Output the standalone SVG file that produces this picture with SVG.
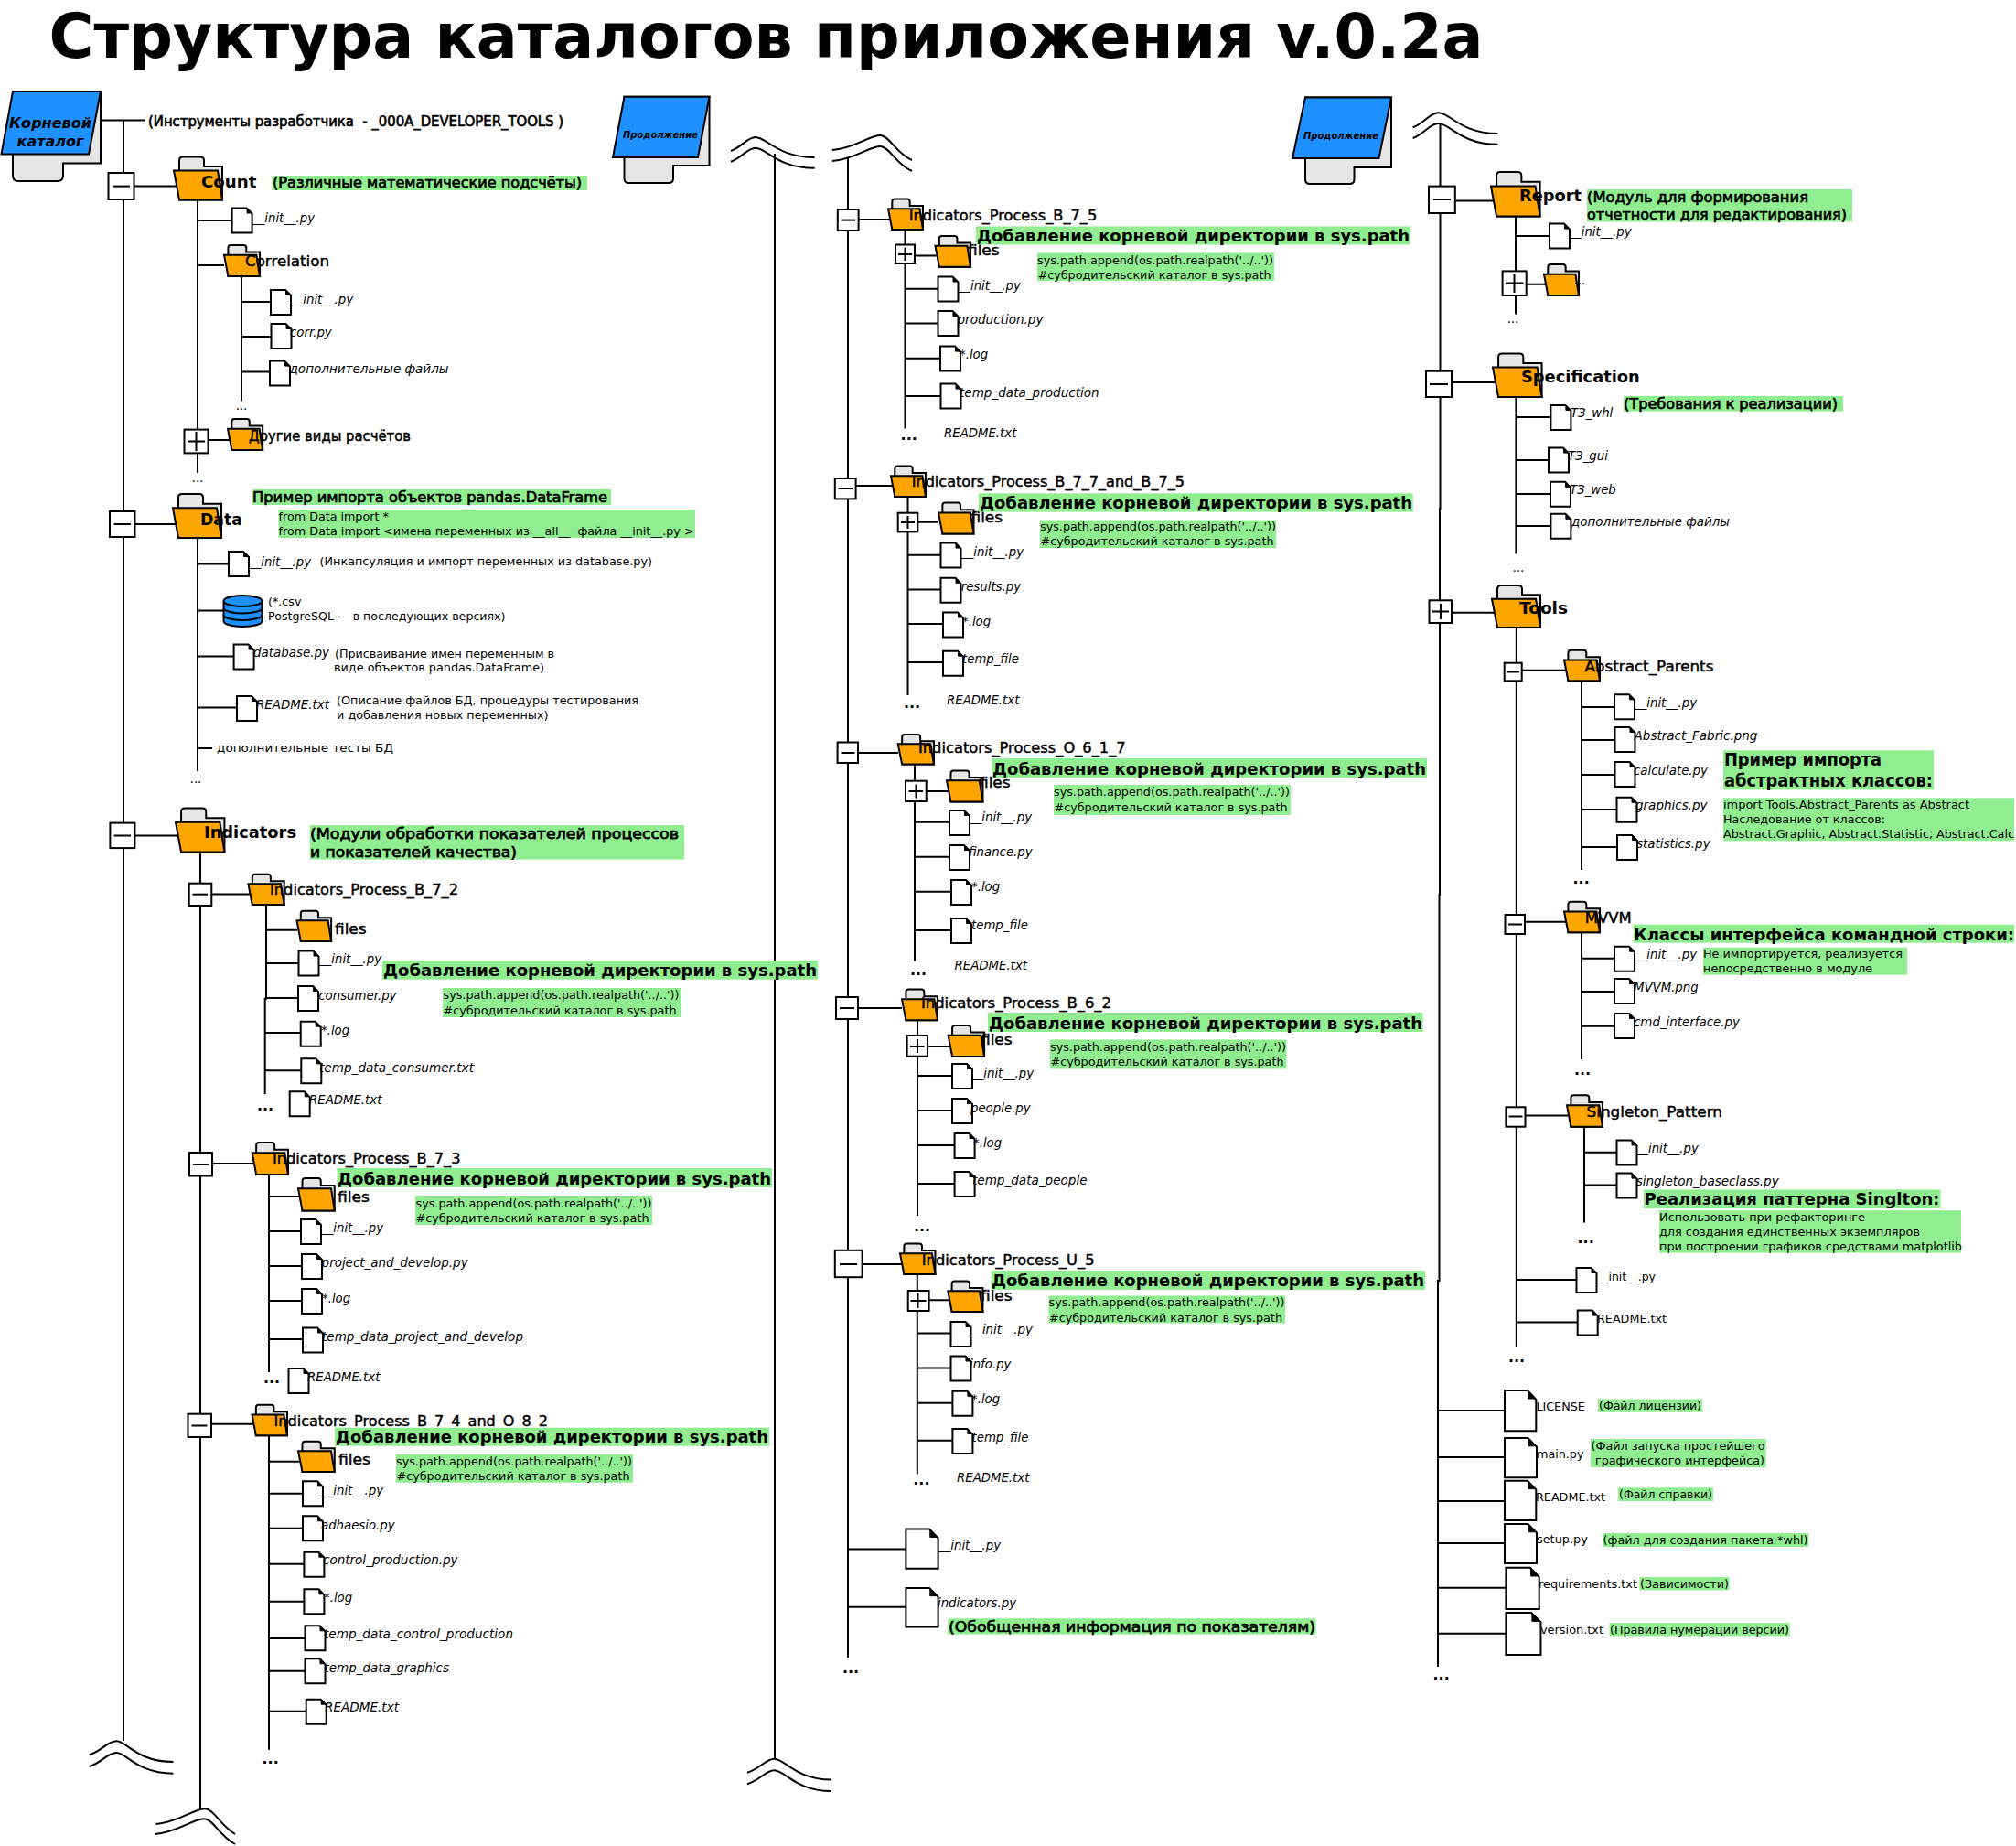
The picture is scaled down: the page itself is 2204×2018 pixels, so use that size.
<svg xmlns="http://www.w3.org/2000/svg" width="2204" height="2018" viewBox="0 0 2204 2018">
<style>
text{font-family:"DejaVu Sans",sans-serif;fill:#000;white-space:pre}
.c{fill:none;stroke:#000;stroke-width:2}
.n{vector-effect:non-scaling-stroke;stroke:#000;stroke-width:2;stroke-linejoin:miter}
.w{fill:#fff}.gy{fill:#e6e6e6}.o{fill:#ffa500}.bl{fill:#1e90ff}
.b{fill:#fff;stroke:#000;stroke-width:2}
.m{fill:none;stroke:#000;stroke-width:2}
.g{fill:#90ee90}
.i{font-size:13.3px;font-style:italic}
.d{font-size:12.7px}
.r{font-size:13px}
.h{font-size:16px;stroke:#000;stroke-width:.45px}
.H{font-size:18px;font-weight:bold}
.gt{font-size:17px;font-weight:bold}
.gb{font-size:15px;stroke:#000;stroke-width:.65px}
.sg{font-size:12.5px}
.dots{font-size:16px;font-weight:bold;text-anchor:middle}
.dd{font-size:13.3px;text-anchor:middle}
.ic{font-style:italic;font-weight:bold;text-anchor:middle}
</style>
<defs>
<g id="file"><path class="n w" d="M0,0H16L22,6V27H0Z"/><path d="M16.5,0.5V5.5H21.5Z" fill="#000" stroke="#000" stroke-width="1" vector-effect="non-scaling-stroke"/></g>
<g id="folder"><path class="n gy" d="M6,47V4Q6,0 10,0H29Q33,0 33,4V10.5H53V47Z"/><path class="n o" d="M0,15H48L53,47H6Z"/></g>
</defs>
<rect width="2204" height="2018" fill="#fff"/>
<g id="connectors">
<path class="c" d="M135,131.5V1903.3M110,131.5H159M146,203.5H195M216,218V517M216,241H254M216,290H245M264,302V438.6M264,330H296M264,368H297M264,406.4H296M227,481H252.5"/>
<path class="c" d="M147,573H194M216,588V843M216,616.4H250.5M216,667.5H245M216,717.5H256M216,773.6H260M216,818H232"/>
<path class="c" d="M147,913.5H195M219,931V1978M231,977.5H275M291,989V1091.7H289.7V1196M291,1016.7H325M291,1053H326.5M291,1091H326M289.7,1129H329M289.7,1170.3H329"/>
<path class="c" d="M232,1272H277M294,1284V1500M294,1308H328M294,1346H329M294,1384H330M294,1422H330M294,1464H331"/>
<path class="c" d="M231,1556.7H278M294,1569V1912.7M294,1597.7H330M294,1632.7H331M294,1670.7H331M294,1709.7H332.4M294,1750.7H332.4M294,1791H333.5M294,1826.7H333.5M294,1870.7H334.7"/>
<path class="c" d="M847,168V1922.7M927,172V1812"/>
<path class="c" d="M938,240H972.7M989.5,251V468.6M1000,279.6H1023.7M989.5,315.7H1025.5M989.5,353.6H1025.5M989.5,391.8H1028M989.5,432.9H1028.5"/>
<path class="c" d="M935.6,531H975M992.5,543V760M1003,570.7H1026M992.5,606.8H1028.5M992.5,644.6H1028.5M992.5,682H1031M992.5,724H1031"/>
<path class="c" d="M938,823H982M1000,835V1050.6M1012.7,865H1037M1000,898.8H1038M1000,936.7H1038M1000,974.7H1040M1000,1017H1040"/>
<path class="c" d="M938,1102H986M1003,1115V1329M1014,1144H1039M1003,1176H1041M1003,1214H1041M1003,1252H1043.6M1003,1294H1043.6"/>
<path class="c" d="M942,1382H986M1002.8,1393V1611.5M1015.6,1421.3H1038M1002.8,1457.6H1039.5M1002.8,1495.6H1039.5M1002.8,1533.7H1041.4M1002.8,1574.8H1041.4M927,1693.6H990.4M927,1756.8H990.4"/>
<path class="c" d="M1574.5,136V556H1574V978H1573.5V1400H1572V1822"/>
<path class="c" d="M1590,219.6H1633M1657,236V343.6M1657,257.9H1695M1668,310.7H1690"/>
<path class="c" d="M1587,417.9H1635M1657.4,434V605.4M1657.4,456H1695.4M1657.4,502.9H1693M1657.4,540H1695M1657.4,575H1695.4"/>
<path class="c" d="M1587,669.7H1634M1657.8,686V1472M1664,732.7H1714M1729,744V951M1729,773H1764.6M1729,809H1765.8M1729,847H1765.8M1729,885H1767.5M1729,926H1768"/>
<path class="c" d="M1667,1007.7H1714M1729,1019V1158M1729,1047.7H1764.6M1729,1084H1764.6M1729,1121.7H1764.6"/>
<path class="c" d="M1667.5,1219.6H1715M1732,1231V1336.6M1732,1259.8H1767.5M1732,1295.5H1767.5M1657.8,1399H1723.5M1657.8,1445.5H1724.7"/>
<path class="c" d="M1572,1542H1645M1572,1592.9H1645M1572,1641H1645M1572,1687H1645M1572,1735.7H1646.4M1572,1785.7H1646.4"/>
<path class="c" d="M97.6,1918.3C112,1914 117,1903.3 127.4,1903.3C138,1903.3 150,1926 189.4,1926M97.6,1931C112,1926.7 117,1916 127.4,1916C138,1916 150,1938.7 189.4,1938.7"/>
<path class="c" d="M170.5,1994C195,1992 212,1977.3 223.9,1977.3C234,1977.3 240,1995 257,2005M169.5,2005C194,2003 211,1988.3 222.9,1988.3C233,1988.3 239,2006 257,2016"/>
<path class="c" d="M817,1937.7C832,1933 837,1922.7 846.7,1922.7C858,1922.7 870,1945.5 909,1945.5M817,1950.2C832,1945.5 837,1935.2 846.7,1935.2C858,1935.2 870,1958 909,1958"/>
<path class="c" d="M799,165C812,160 817,150 826,150C838,150 850,172 890.6,172M799,176.8C812,171.8 817,161.8 826,161.8C838,161.8 850,183.8 890.6,183.8"/>
<path class="c" d="M909.8,164C935,162 950,148 962.5,148C972,148 980,168 997,175M909.8,176C935,174 950,160 962.5,160C972,160 980,180 997,187"/>
<path class="c" d="M1544.6,139.3C1558,134 1563,123.2 1572.8,123.2C1585,123.2 1597,146 1637.4,146M1544.6,151.1C1558,145.8 1563,135 1572.8,135C1585,135 1597,157.8 1637.4,157.8"/>
</g>
<g id="title"><text x="53.6" y="62.5" font-size="67" font-weight="bold" textLength="1568" lengthAdjust="spacingAndGlyphs">Структура каталогов приложения v.0.2a</text></g>
<g id="root">
<path class="n gy" d="M14,100H110V178.5H69V192Q69,198 63,198H20Q14,198 14,192Z"/>
<path class="n bl" d="M14,100H110L97,168.6H1.5Z"/>
<text class="ic" x="55" y="140" font-size="16" textLength="90" lengthAdjust="spacingAndGlyphs">Корневой</text>
<text class="ic" x="55" y="160" font-size="16">каталог</text>
</g>
<g id="cont-1">
<path class="n gy" d="M682.5,105.7H775.5V181H736V195Q736,200 731,200H687.5Q682.5,200 682.5,195Z"/>
<path class="n bl" d="M682.5,105.7H775.5L763,172H670Z"/>
<text class="ic" x="722" y="150.7" font-size="10.5" textLength="82" lengthAdjust="spacingAndGlyphs">Продолжение</text>
</g>
<g id="cont-2">
<path class="n gy" d="M1427,106.4H1521V183H1480.5V196Q1480.5,201 1475.5,201H1432Q1427,201 1427,196Z"/>
<path class="n bl" d="M1427,106.4H1521L1507.5,173H1413Z"/>
<text class="ic" x="1466" y="152" font-size="10.5" textLength="82" lengthAdjust="spacingAndGlyphs">Продолжение</text>
</g>
<g id="tools-dev"><text class="gb" x="162" y="137.6" textLength="454" lengthAdjust="spacingAndGlyphs">(Инструменты разработчика  - _000A_DEVELOPER_TOOLS )</text></g>

<g id="count">
<rect class="b" x="118.5" y="189" width="28" height="29"/><path class="m" d="M123.5,203.6H142"/>
<use href="#folder" transform="translate(190,171.5)"/>
<text class="H" x="220" y="205" textLength="60.5" lengthAdjust="spacingAndGlyphs">Count</text>
<rect class="g" x="297.4" y="192" width="344.6" height="16"/>
<text class="gb" x="298" y="205" textLength="338" lengthAdjust="spacingAndGlyphs">(Различные математические подсчёты)</text>
</g>
<g id="count-init"><use href="#file" x="253.6" y="227.5"/><text class="i" x="276" y="243">__init__.py</text></g>
<g id="correlation"><use href="#folder" transform="translate(245,268) scale(.736,.723)"/><text class="h" x="268" y="291" textLength="92" lengthAdjust="spacingAndGlyphs">Correlation</text></g>
<g id="corr-init"><use href="#file" x="296" y="317"/><text class="i" x="318" y="331.5">__init__.py</text></g>
<g id="corr-py"><use href="#file" x="296.5" y="354"/><text class="i" x="317" y="368">corr.py</text></g>
<g id="corr-extra"><use href="#file" x="295" y="394.6"/><text class="i" x="316.5" y="408" textLength="174" lengthAdjust="spacingAndGlyphs">дополнительные файлы</text></g>
<g id="corr-dots"><text class="dd" x="264" y="447.5">...</text></g>
<g id="other-calc">
<rect class="b" x="201.5" y="469.6" width="26" height="25.8"/><path class="m" d="M205,482.5H224M214.5,472V493"/>
<use href="#folder" transform="translate(249,458) scale(.72,.723)"/>
<text class="h" x="272" y="482" textLength="177" lengthAdjust="spacingAndGlyphs" style="font-size:15px">Другие виды расчётов</text>
</g>
<g id="count-dots"><text class="dd" x="216" y="527">...</text></g>

<g id="data">
<rect class="b" x="120" y="559" width="27.5" height="28"/><path class="m" d="M124.5,573H143"/>
<use href="#folder" transform="translate(189,540) scale(1,1.02)"/>
<text class="H" x="219" y="573.5" textLength="46" lengthAdjust="spacingAndGlyphs">Data</text>
<rect class="g" x="276" y="535" width="392" height="17"/>
<text class="gb" x="276" y="549" textLength="388" lengthAdjust="spacingAndGlyphs">Пример импорта объектов pandas.DataFrame</text>
<rect class="g" x="304.6" y="557" width="455.4" height="31"/>
<text class="d" x="304.6" y="569">from Data import *</text>
<text class="d" x="304.6" y="585.4" textLength="454" lengthAdjust="spacingAndGlyphs">from Data import &lt;имена переменных из __all__  файла __init__.py &gt;</text>
</g>
<g id="data-init"><use href="#file" x="250" y="603"/><text class="i" x="272" y="618.6">__init__.py</text><text class="d" x="349.5" y="618" textLength="363.5" lengthAdjust="spacingAndGlyphs">(Инкапсуляция и импорт переменных из database.py)</text></g>
<g id="data-db">
<path class="n bl" d="M244.5,657V679A21,6 0 0 0 286.5,679V657A21,6 0 0 0 244.5,657Z"/>
<path class="m" d="M244.5,657A21,6 0 0 0 286.5,657M244.5,664.5A21,6 0 0 0 286.5,664.5M244.5,672A21,6 0 0 0 286.5,672"/>
<text class="d" x="293" y="662">(*.csv</text>
<text class="d" x="293" y="678" textLength="259.5" lengthAdjust="spacingAndGlyphs">PostgreSQL -   в последующих версиях)</text>
</g>
<g id="data-database"><use href="#file" x="255.6" y="704.6"/><text class="i" x="277" y="717.5" textLength="83" lengthAdjust="spacingAndGlyphs">database.py</text><text class="d" x="366" y="718.6" textLength="240" lengthAdjust="spacingAndGlyphs">(Присваивание имен переменным в</text><text class="d" x="365" y="734" textLength="230" lengthAdjust="spacingAndGlyphs">виде объектов pandas.DataFrame)</text></g>
<g id="data-readme"><use href="#file" x="259" y="761"/><text class="i" x="280" y="775" textLength="80" lengthAdjust="spacingAndGlyphs">README.txt</text><text class="d" x="368" y="770" textLength="330" lengthAdjust="spacingAndGlyphs">(Описание файлов БД, процедуры тестирования</text><text class="d" x="368" y="786" textLength="231.5" lengthAdjust="spacingAndGlyphs">и добавления новых переменных)</text></g>
<g id="data-tests"><text class="d" x="237" y="822" textLength="193" lengthAdjust="spacingAndGlyphs">дополнительные тесты БД</text></g>
<g id="data-dots"><text class="dd" x="214" y="856">...</text></g>

<g id="indicators">
<rect class="b" x="120.4" y="899.6" width="27" height="27.5"/><path class="m" d="M124.5,913.5H143"/>
<use href="#folder" transform="translate(192,883.6) scale(1.008,1.017)"/>
<text class="H" x="223" y="915.7" textLength="101" lengthAdjust="spacingAndGlyphs">Indicators</text>
<rect class="g" x="338.8" y="902" width="409.2" height="37.6"/>
<text class="gb" x="339" y="917" textLength="403" lengthAdjust="spacingAndGlyphs" style="font-size:16.5px;stroke-width:.75px">(Модули обработки показателей процессов</text>
<text class="gb" x="339" y="937" textLength="226" lengthAdjust="spacingAndGlyphs" style="font-size:16.5px;stroke-width:.75px">и показателей качества)</text>
</g>

<g id="b72">
<rect class="b" x="206.7" y="965.7" width="24.6" height="24.3"/><path class="m" d="M210.5,977.7H227"/>
<use href="#folder" transform="translate(271.4,955.7) scale(.741,.709)"/>
<text class="h" x="295" y="978" textLength="206" lengthAdjust="spacingAndGlyphs">Indicators_Process_B_7_2</text>
</g>
<g id="b72-files"><use href="#folder" transform="translate(324.5,995.7) scale(.71,.709)"/><text class="h" x="366" y="1020.7" textLength="34.5" lengthAdjust="spacingAndGlyphs">files</text></g>
<g id="b72-init"><use href="#file" x="326.5" y="1039.6"/><text class="i" x="349" y="1053">__init__.py</text></g>
<g id="b72-green"><rect class="g" x="418" y="1050" width="476" height="20.7"/><text class="gt" x="419" y="1067" textLength="474" lengthAdjust="spacingAndGlyphs">Добавление корневой директории в sys.path</text>
<rect class="g" x="484" y="1080" width="260" height="32"/><text class="sg" x="484.5" y="1092" textLength="258" lengthAdjust="spacingAndGlyphs">sys.path.append(os.path.realpath('../..'))</text><text class="sg" x="484.5" y="1108.5" textLength="255" lengthAdjust="spacingAndGlyphs">#субродительский каталог в sys.path</text></g>
<g id="b72-consumer"><use href="#file" x="326" y="1078"/><text class="i" x="348.3" y="1092.7">consumer.py</text></g>
<g id="b72-log"><use href="#file" x="328.7" y="1116.7"/><text class="i" x="351" y="1131">*.log</text></g>
<g id="b72-temp"><use href="#file" x="329.3" y="1157.3"/><text class="i" x="349" y="1171.7" textLength="169" lengthAdjust="spacingAndGlyphs">temp_data_consumer.txt</text></g>
<g id="b72-dots"><text class="dots" x="290" y="1214">...</text></g>
<g id="b72-readme"><use href="#file" x="316.7" y="1193.3"/><text class="i" x="338" y="1207">README.txt</text></g>

<g id="b73">
<rect class="b" x="207" y="1260" width="25" height="25.5"/><path class="m" d="M211,1273H228"/>
<use href="#folder" transform="translate(275.7,1249) scale(.741,.745)"/>
<text class="h" x="298" y="1272" textLength="205.5" lengthAdjust="spacingAndGlyphs">Indicators_Process_B_7_3</text>
</g>
<g id="b73-files"><use href="#folder" transform="translate(326,1288) scale(.75,.755)"/><text class="h" x="369" y="1314" textLength="35" lengthAdjust="spacingAndGlyphs">files</text></g>
<g id="b73-green"><rect class="g" x="368.5" y="1277" width="475.5" height="21"/><text class="gt" x="369" y="1294.5" textLength="474" lengthAdjust="spacingAndGlyphs">Добавление корневой директории в sys.path</text>
<rect class="g" x="454" y="1307" width="259" height="32"/><text class="sg" x="454.5" y="1319.5" textLength="258" lengthAdjust="spacingAndGlyphs">sys.path.append(os.path.realpath('../..'))</text><text class="sg" x="454.5" y="1335.5" textLength="255" lengthAdjust="spacingAndGlyphs">#субродительский каталог в sys.path</text></g>
<g id="b73-init"><use href="#file" x="329" y="1333"/><text class="i" x="351" y="1347">__init__.py</text></g>
<g id="b73-project"><use href="#file" x="330" y="1371"/><text class="i" x="351.6" y="1385" textLength="160" lengthAdjust="spacingAndGlyphs">project_and_develop.py</text></g>
<g id="b73-log"><use href="#file" x="330" y="1409"/><text class="i" x="352" y="1423.5">*.log</text></g>
<g id="b73-temp"><use href="#file" x="331" y="1451.5"/><text class="i" x="352" y="1465.5" textLength="220" lengthAdjust="spacingAndGlyphs">temp_data_project_and_develop</text></g>
<g id="b73-dots"><text class="dots" x="297" y="1511.5">...</text></g>
<g id="b73-readme"><use href="#file" x="315.5" y="1496"/><text class="i" x="336" y="1509.5">README.txt</text></g>

<g id="b74">
<rect class="b" x="205.5" y="1545.7" width="25.5" height="25.3"/><path class="m" d="M209.5,1558.5H226.5"/>
<use href="#folder" transform="translate(275.5,1535.7) scale(.726,.715)"/>
<text class="h" x="299.6" y="1559.3" textLength="299.4" lengthAdjust="spacingAndGlyphs">Indicators_Process_B_7_4_and_O_8_2</text>
</g>
<g id="b74-green"><rect class="g" x="366" y="1560.7" width="475" height="20"/><text class="gt" x="367" y="1577.3" textLength="473" lengthAdjust="spacingAndGlyphs">Добавление корневой директории в sys.path</text>
<rect class="g" x="433" y="1590" width="259" height="30.7"/><text class="sg" x="433" y="1601.7" textLength="258" lengthAdjust="spacingAndGlyphs">sys.path.append(os.path.realpath('../..'))</text><text class="sg" x="433.5" y="1618.3" textLength="255" lengthAdjust="spacingAndGlyphs">#субродительский каталог в sys.path</text></g>
<g id="b74-files"><use href="#folder" transform="translate(326,1575.7) scale(.75,.708)"/><text class="h" x="370" y="1601" textLength="35" lengthAdjust="spacingAndGlyphs">files</text></g>
<g id="b74-init"><use href="#file" x="331" y="1619.3"/><text class="i" x="351" y="1634">__init__.py</text></g>
<g id="b74-adh"><use href="#file" x="331" y="1657.3"/><text class="i" x="351" y="1671.7">adhaesio.py</text></g>
<g id="b74-control"><use href="#file" x="332.4" y="1696.7"/><text class="i" x="353" y="1710" textLength="147.6" lengthAdjust="spacingAndGlyphs">control_production.py</text></g>
<g id="b74-log"><use href="#file" x="332.4" y="1737.3"/><text class="i" x="354" y="1750.7">*.log</text></g>
<g id="b74-temp1"><use href="#file" x="333.5" y="1777.3"/><text class="i" x="354" y="1791" textLength="207" lengthAdjust="spacingAndGlyphs">temp_data_control_production</text></g>
<g id="b74-temp2"><use href="#file" x="333.5" y="1813.3"/><text class="i" x="354.5" y="1828" textLength="136.5" lengthAdjust="spacingAndGlyphs">temp_data_graphics</text></g>
<g id="b74-readme"><use href="#file" x="334.7" y="1857.7"/><text class="i" x="355" y="1870.7" textLength="81" lengthAdjust="spacingAndGlyphs">README.txt</text></g>
<g id="b74-dots"><text class="dots" x="295.6" y="1928.3">...</text></g>

<g id="b75">
<rect class="b" x="915.8" y="229" width="22.8" height="23"/><path class="m" d="M919.5,240.6H935"/>
<use href="#folder" transform="translate(971,217.5) scale(.717,.713)"/>
<text class="h" x="993.7" y="240.7" textLength="205.5" lengthAdjust="spacingAndGlyphs">Indicators_Process_B_7_5</text>
</g>
<g id="b75-files">
<rect class="b" x="979" y="267.5" width="21" height="20.5"/><path class="m" d="M982,278H997M989.5,270.5V285"/>
<use href="#folder" transform="translate(1022.5,258) scale(.726,.72)"/>
<text class="h" x="1058" y="279.3" textLength="34.6" lengthAdjust="spacingAndGlyphs">files</text>
</g>
<g id="b75-green"><rect class="g" x="1067" y="247.5" width="474.7" height="20"/><text class="gt" x="1068" y="264" textLength="473" lengthAdjust="spacingAndGlyphs">Добавление корневой директории в sys.path</text>
<rect class="g" x="1134" y="276.4" width="259" height="30.6"/><text class="sg" x="1134" y="288.6" textLength="258" lengthAdjust="spacingAndGlyphs">sys.path.append(os.path.realpath('../..'))</text><text class="sg" x="1134.5" y="305" textLength="255" lengthAdjust="spacingAndGlyphs">#субродительский каталог в sys.path</text></g>
<g id="b75-init"><use href="#file" x="1025.5" y="302.5"/><text class="i" x="1047.7" y="316.8">__init__.py</text></g>
<g id="b75-prod"><use href="#file" x="1025.5" y="340"/><text class="i" x="1046.5" y="354" textLength="94" lengthAdjust="spacingAndGlyphs">production.py</text></g>
<g id="b75-log"><use href="#file" x="1028" y="378.6"/><text class="i" x="1049" y="391.8">*.log</text></g>
<g id="b75-temp"><use href="#file" x="1028.5" y="419.6"/><text class="i" x="1049" y="434" textLength="152.7" lengthAdjust="spacingAndGlyphs">temp_data_production</text></g>
<g id="b75-readme"><text class="i" x="1032" y="477.5">README.txt</text></g>
<g id="b75-dots"><text class="dots" x="993.7" y="481">...</text></g>

<g id="b77">
<rect class="b" x="912.8" y="523" width="22.8" height="22.4"/><path class="m" d="M916.5,534H932"/>
<use href="#folder" transform="translate(974,509.6) scale(.717,.713)"/>
<text class="h" x="996.7" y="532" textLength="298.3" lengthAdjust="spacingAndGlyphs">Indicators_Process_B_7_7_and_B_7_5</text>
</g>
<g id="b77-files">
<rect class="b" x="981.7" y="560.7" width="21.6" height="20.7"/><path class="m" d="M985,571H1000M992.5,564V578"/>
<use href="#folder" transform="translate(1026,549.6) scale(.726,.72)"/>
<text class="h" x="1061.5" y="571" textLength="34.6" lengthAdjust="spacingAndGlyphs">files</text>
</g>
<g id="b77-green"><rect class="g" x="1070" y="539.3" width="474.7" height="20.3"/><text class="gt" x="1071" y="556" textLength="473" lengthAdjust="spacingAndGlyphs">Добавление корневой директории в sys.path</text>
<rect class="g" x="1137" y="568.6" width="258" height="30.4"/><text class="sg" x="1137" y="580" textLength="258" lengthAdjust="spacingAndGlyphs">sys.path.append(os.path.realpath('../..'))</text><text class="sg" x="1137.5" y="596.4" textLength="255" lengthAdjust="spacingAndGlyphs">#субродительский каталог в sys.path</text></g>
<g id="b77-init"><use href="#file" x="1028.5" y="593.6"/><text class="i" x="1051" y="608">__init__.py</text></g>
<g id="b77-results"><use href="#file" x="1028.5" y="631.8"/><text class="i" x="1050.7" y="645.5">results.py</text></g>
<g id="b77-log"><use href="#file" x="1031" y="669.5"/><text class="i" x="1052" y="683.5">*.log</text></g>
<g id="b77-temp"><use href="#file" x="1031" y="711.7"/><text class="i" x="1052" y="724.5">temp_file</text></g>
<g id="b77-readme"><text class="i" x="1035" y="769.5">README.txt</text></g>
<g id="b77-dots"><text class="dots" x="997" y="773.5">...</text></g>

<g id="o617">
<rect class="b" x="915.6" y="811.5" width="22.4" height="22.5"/><path class="m" d="M919.5,823H934.5"/>
<use href="#folder" transform="translate(981.7,803) scale(.741,.69)"/>
<text class="h" x="1004" y="822.5" textLength="226.7" lengthAdjust="spacingAndGlyphs">Indicators_Process_O_6_1_7</text>
</g>
<g id="o617-files">
<rect class="b" x="990" y="853.7" width="22.7" height="22.3"/><path class="m" d="M993.5,865H1009M1001.5,857.5V872.5"/>
<use href="#folder" transform="translate(1035,842.5) scale(.745,.723)"/>
<text class="h" x="1070" y="861" textLength="34.6" lengthAdjust="spacingAndGlyphs">files</text>
</g>
<g id="o617-green"><rect class="g" x="1084.4" y="829" width="475.6" height="21"/><text class="gt" x="1085" y="846.5" textLength="474" lengthAdjust="spacingAndGlyphs">Добавление корневой директории в sys.path</text>
<rect class="g" x="1152" y="858" width="259" height="33"/><text class="sg" x="1152" y="870" textLength="258" lengthAdjust="spacingAndGlyphs">sys.path.append(os.path.realpath('../..'))</text><text class="sg" x="1152.5" y="886.5" textLength="255" lengthAdjust="spacingAndGlyphs">#субродительский каталог в sys.path</text></g>
<g id="o617-init"><use href="#file" x="1038" y="886"/><text class="i" x="1060" y="897.5">__init__.py</text></g>
<g id="o617-finance"><use href="#file" x="1038" y="924"/><text class="i" x="1059" y="935.5">finance.py</text></g>
<g id="o617-log"><use href="#file" x="1040" y="962"/><text class="i" x="1062" y="973.5">*.log</text></g>
<g id="o617-temp"><use href="#file" x="1040" y="1004"/><text class="i" x="1062" y="1015.5">temp_file</text></g>
<g id="o617-readme"><text class="i" x="1043.6" y="1060">README.txt</text></g>
<g id="o617-dots"><text class="dots" x="1004" y="1066">...</text></g>

<g id="b62">
<rect class="b" x="914" y="1090" width="24" height="24"/><path class="m" d="M918,1102H934"/>
<use href="#folder" transform="translate(986,1081.6) scale(.736,.717)"/>
<text class="h" x="1007" y="1101.5" textLength="208" lengthAdjust="spacingAndGlyphs">Indicators_Process_B_6_2</text>
</g>
<g id="b62-files">
<rect class="b" x="991.6" y="1132" width="22.4" height="22.7"/><path class="m" d="M995,1144H1010.5M1003,1136V1151"/>
<use href="#folder" transform="translate(1036.6,1121) scale(.745,.723)"/>
<text class="h" x="1072" y="1142" textLength="34.6" lengthAdjust="spacingAndGlyphs">files</text>
</g>
<g id="b62-green"><rect class="g" x="1080" y="1107" width="475.6" height="21"/><text class="gt" x="1081" y="1124.5" textLength="474" lengthAdjust="spacingAndGlyphs">Добавление корневой директории в sys.path</text>
<rect class="g" x="1147.7" y="1136.5" width="258.8" height="32"/><text class="sg" x="1148" y="1148.5" textLength="258" lengthAdjust="spacingAndGlyphs">sys.path.append(os.path.realpath('../..'))</text><text class="sg" x="1148.5" y="1165" textLength="255" lengthAdjust="spacingAndGlyphs">#субродительский каталог в sys.path</text></g>
<g id="b62-init"><use href="#file" x="1041" y="1163"/><text class="i" x="1062" y="1177.5">__init__.py</text></g>
<g id="b62-people"><use href="#file" x="1041" y="1201"/><text class="i" x="1061" y="1215.5">people.py</text></g>
<g id="b62-log"><use href="#file" x="1043.6" y="1239"/><text class="i" x="1064" y="1253.5">*.log</text></g>
<g id="b62-temp"><use href="#file" x="1043.6" y="1281"/><text class="i" x="1063" y="1294.5" textLength="125.5" lengthAdjust="spacingAndGlyphs">temp_data_people</text></g>
<g id="b62-dots"><text class="dots" x="1008" y="1346">...</text></g>

<g id="u5">
<rect class="b" x="912.8" y="1366.8" width="29.8" height="29.4"/><path class="m" d="M918,1382H937"/>
<use href="#folder" transform="translate(984,1359.5) scale(.726,.713)"/>
<text class="h" x="1007.8" y="1383.2" textLength="188.7" lengthAdjust="spacingAndGlyphs">Indicators_Process_U_5</text>
</g>
<g id="u5-files">
<rect class="b" x="992.7" y="1411" width="22.9" height="22"/><path class="m" d="M995.5,1422H1012.5M1003.5,1414V1430"/>
<use href="#folder" transform="translate(1036.3,1400.5) scale(.72,.713)"/>
<text class="h" x="1072" y="1422" textLength="34.6" lengthAdjust="spacingAndGlyphs">files</text>
</g>
<g id="u5-green"><rect class="g" x="1083.6" y="1388.9" width="474.4" height="21"/><text class="gt" x="1084" y="1406" textLength="473" lengthAdjust="spacingAndGlyphs">Добавление корневой директории в sys.path</text>
<rect class="g" x="1146.5" y="1416.5" width="258.5" height="30"/><text class="sg" x="1146.5" y="1428" textLength="258" lengthAdjust="spacingAndGlyphs">sys.path.append(os.path.realpath('../..'))</text><text class="sg" x="1147" y="1444.6" textLength="255" lengthAdjust="spacingAndGlyphs">#субродительский каталог в sys.path</text></g>
<g id="u5-init"><use href="#file" x="1039.5" y="1445"/><text class="i" x="1060.6" y="1458">__init__.py</text></g>
<g id="u5-info"><use href="#file" x="1039.5" y="1482.5"/><text class="i" x="1060" y="1495.5">info.py</text></g>
<g id="u5-log"><use href="#file" x="1041.4" y="1520.7"/><text class="i" x="1062" y="1533.5">*.log</text></g>
<g id="u5-temp"><use href="#file" x="1041.4" y="1562"/><text class="i" x="1062.5" y="1576">temp_file</text></g>
<g id="u5-readme"><text class="i" x="1046" y="1620">README.txt</text></g>
<g id="u5-dots"><text class="dots" x="1007.4" y="1622.7">...</text></g>
<g id="ind-init"><use href="#file" transform="translate(990.4,1671.6) scale(1.6,1.6)"/><text class="i" x="1026" y="1693.5">__init__.py</text></g>
<g id="ind-py"><use href="#file" transform="translate(990.4,1736) scale(1.6,1.57)"/><text class="i" x="1025" y="1757">indicators.py</text>
<rect class="g" x="1036.3" y="1769.3" width="402.2" height="17.3"/><text class="gb" x="1037" y="1784" textLength="401" lengthAdjust="spacingAndGlyphs">(Обобщенная информация по показателям)</text></g>
<g id="ind-dots"><text class="dots" x="930" y="1828.5">...</text></g>

<g id="report">
<rect class="b" x="1562" y="203.6" width="28.8" height="29.4"/><path class="m" d="M1567,218H1586"/>
<use href="#folder" transform="translate(1630,188) scale(1.011,1.03)"/>
<text class="H" x="1661" y="220.4" textLength="68" lengthAdjust="spacingAndGlyphs">Report</text>
<rect class="g" x="1735" y="207" width="290" height="35.5"/>
<text class="gb" x="1735" y="221" textLength="242" lengthAdjust="spacingAndGlyphs">(Модуль для формирования</text>
<text class="gb" x="1735" y="240" textLength="284" lengthAdjust="spacingAndGlyphs">отчетности для редактирования)</text>
</g>
<g id="report-init"><use href="#file" x="1694" y="244.6"/><text class="i" x="1715.4" y="258">__init__.py</text></g>
<g id="report-sub">
<rect class="b" x="1642.6" y="296.4" width="26.1" height="26.6"/><path class="m" d="M1646,309.5H1665.5M1655.5,299.5V320"/>
<use href="#folder" transform="translate(1688,289) scale(.717,.723)"/>
<text class="dd" x="1727" y="311.4">...</text>
</g>
<g id="report-dots"><text class="dd" x="1654" y="352.5">...</text></g>

<g id="spec">
<rect class="b" x="1559" y="405.7" width="28" height="28.3"/><path class="m" d="M1563,420H1583"/>
<use href="#folder" transform="translate(1632,386.4) scale(1.011,1.013)"/>
<text class="H" x="1663" y="418" textLength="129.8" lengthAdjust="spacingAndGlyphs">Specification</text>
<rect class="g" x="1775" y="432.9" width="240" height="16.7"/>
<text class="gb" x="1775" y="447" textLength="234" lengthAdjust="spacingAndGlyphs">(Требования к реализации)</text>
</g>
<g id="spec-whl"><use href="#file" x="1695.4" y="442.9"/><text class="i" x="1717" y="456">ТЗ_whl</text></g>
<g id="spec-gui"><use href="#file" x="1693" y="489.6"/><text class="i" x="1714" y="503">ТЗ_gui</text></g>
<g id="spec-web"><use href="#file" x="1695" y="526.8"/><text class="i" x="1716" y="540">ТЗ_web</text></g>
<g id="spec-extra"><use href="#file" x="1695.4" y="561.8"/><text class="i" x="1718" y="575" textLength="173" lengthAdjust="spacingAndGlyphs">дополнительные файлы</text></g>
<g id="spec-dots"><text class="dd" x="1660" y="624.6">...</text></g>

<g id="tools">
<rect class="b" x="1562.5" y="656.3" width="24.5" height="24.7"/><path class="m" d="M1566,668.5H1584M1575,660V677"/>
<use href="#folder" transform="translate(1631,640) scale(1,.979)"/>
<text class="H" x="1661" y="670.7" textLength="53" lengthAdjust="spacingAndGlyphs">Tools</text>
</g>
<g id="abstract">
<rect class="b" x="1644.7" y="724.7" width="19" height="19.6"/><path class="m" d="M1647.5,734.5H1661"/>
<use href="#folder" transform="translate(1710,710.7) scale(.736,.715)"/>
<text class="h" x="1732.4" y="734" textLength="141" lengthAdjust="spacingAndGlyphs">Abstract_Parents</text>
</g>
<g id="abs-init"><use href="#file" x="1765" y="759.3"/><text class="i" x="1787" y="773.3">__init__.py</text></g>
<g id="abs-fabric"><use href="#file" x="1765.5" y="795"/><text class="i" x="1786.6" y="809" textLength="134.8" lengthAdjust="spacingAndGlyphs">Abstract_Fabric.png</text></g>
<g id="abs-calc"><use href="#file" x="1765.5" y="833"/><text class="i" x="1786" y="846.7" textLength="81" lengthAdjust="spacingAndGlyphs">calculate.py</text></g>
<g id="abs-graph"><use href="#file" x="1767.5" y="871.7"/><text class="i" x="1788" y="885" textLength="78.6" lengthAdjust="spacingAndGlyphs">graphics.py</text></g>
<g id="abs-stat"><use href="#file" x="1768" y="913"/><text class="i" x="1789" y="926.7" textLength="80.6" lengthAdjust="spacingAndGlyphs">statistics.py</text></g>
<g id="abs-dots"><text class="dots" x="1728.6" y="966">...</text></g>
<g id="abs-note">
<rect class="g" x="1884" y="820.3" width="230" height="43"/>
<text class="gt" x="1885" y="837.3" textLength="172" lengthAdjust="spacingAndGlyphs" style="font-size:19px">Пример импорта</text>
<text class="gt" x="1885" y="860" textLength="228" lengthAdjust="spacingAndGlyphs" style="font-size:19px">абстрактных классов:</text>
<rect class="g" x="1884" y="872.3" width="318" height="47"/>
<text class="r" x="1884" y="884.3" textLength="269" lengthAdjust="spacingAndGlyphs">import Tools.Abstract_Parents as Abstract</text>
<text class="r" x="1884" y="900" textLength="177" lengthAdjust="spacingAndGlyphs">Наследование от классов:</text>
<text class="r" x="1884" y="916" textLength="318" lengthAdjust="spacingAndGlyphs">Abstract.Graphic, Abstract.Statistic, Abstract.Calc</text>
</g>
<g id="mvvm">
<rect class="b" x="1645.5" y="1000" width="21.5" height="21"/><path class="m" d="M1649,1010.5H1664"/>
<use href="#folder" transform="translate(1710,985.7) scale(.736,.715)"/>
<text class="h" x="1732.8" y="1009" textLength="50.8" lengthAdjust="spacingAndGlyphs">MVVM</text>
<rect class="g" x="1785.8" y="1010.7" width="416.2" height="20"/>
<text class="gt" x="1786" y="1027.7" textLength="416" lengthAdjust="spacingAndGlyphs">Классы интерфейса командной строки:</text>
</g>
<g id="mvvm-init"><use href="#file" x="1765" y="1034.7"/><text class="i" x="1787" y="1048.3">__init__.py</text>
<rect class="g" x="1862" y="1035.7" width="223" height="30"/><text class="r" x="1862" y="1047.3" textLength="218" lengthAdjust="spacingAndGlyphs">Не импортируется, реализуется</text><text class="r" x="1862" y="1063.3" textLength="185" lengthAdjust="spacingAndGlyphs">непосредственно в модуле</text></g>
<g id="mvvm-png"><use href="#file" x="1765" y="1070"/><text class="i" x="1786" y="1084">MVVM.png</text></g>
<g id="mvvm-cmd"><use href="#file" x="1765" y="1108"/><text class="i" x="1786" y="1122" textLength="116" lengthAdjust="spacingAndGlyphs">cmd_interface.py</text></g>
<g id="mvvm-dots"><text class="dots" x="1730" y="1174.5">...</text></g>
<g id="singleton">
<rect class="b" x="1646.4" y="1210.3" width="21.1" height="21.4"/><path class="m" d="M1649.5,1220.5H1664.5"/>
<use href="#folder" transform="translate(1713,1197.3) scale(.736,.732)"/>
<text class="h" x="1734.5" y="1221.4" textLength="148.5" lengthAdjust="spacingAndGlyphs">Singleton_Pattern</text>
</g>
<g id="sing-init"><use href="#file" x="1767.5" y="1246.4"/><text class="i" x="1788.7" y="1260">__init__.py</text></g>
<g id="sing-base"><use href="#file" x="1767.5" y="1282.6"/><text class="i" x="1788.7" y="1296" textLength="156" lengthAdjust="spacingAndGlyphs">singleton_baseclass.py</text></g>
<g id="sing-note">
<rect class="g" x="1797" y="1300.4" width="324.4" height="20.6"/>
<text class="gt" x="1797.5" y="1317.4" textLength="323" lengthAdjust="spacingAndGlyphs">Реализация паттерна Singlton:</text>
<rect class="g" x="1814" y="1323.2" width="330" height="46.4"/>
<text class="r" x="1814" y="1335.3" textLength="225" lengthAdjust="spacingAndGlyphs">Использовать при рефакторинге</text>
<text class="r" x="1814" y="1351.3" textLength="285" lengthAdjust="spacingAndGlyphs">для создания единственных экземпляров</text>
<text class="r" x="1814" y="1367.4" textLength="331" lengthAdjust="spacingAndGlyphs">при построении графиков средствами matplotlib</text>
</g>
<g id="sing-dots"><text class="dots" x="1733.6" y="1359">...</text></g>
<g id="tools-init"><use href="#file" x="1723.5" y="1386"/><text class="r" x="1746" y="1399.5" textLength="64" lengthAdjust="spacingAndGlyphs">__init__.py</text></g>
<g id="tools-readme"><use href="#file" x="1724.7" y="1432.6"/><text class="r" x="1746" y="1446" textLength="76" lengthAdjust="spacingAndGlyphs">README.txt</text></g>
<g id="tools-dots"><text class="dots" x="1658" y="1489">...</text></g>

<g id="license"><use href="#file" transform="translate(1645,1520) scale(1.56,1.64)"/><text class="r" x="1679.4" y="1542" textLength="53.4" lengthAdjust="spacingAndGlyphs">LICENSE</text>
<rect class="g" x="1747" y="1529.5" width="114" height="14.3"/><text class="r" x="1748" y="1540.6" textLength="112" lengthAdjust="spacingAndGlyphs">(Файл лицензии)</text></g>
<g id="main"><use href="#file" transform="translate(1645,1572) scale(1.59,1.6)"/><text class="r" x="1680" y="1594" textLength="51.5" lengthAdjust="spacingAndGlyphs">main.py</text>
<rect class="g" x="1739" y="1573" width="191.7" height="31"/><text class="r" x="1739.5" y="1584.8" textLength="190" lengthAdjust="spacingAndGlyphs">(Файл запуска простейшего</text><text class="r" x="1744" y="1601" textLength="185" lengthAdjust="spacingAndGlyphs">графического интерфейса)</text></g>
<g id="readme"><use href="#file" transform="translate(1645,1618.8) scale(1.56,1.6)"/><text class="r" x="1679" y="1641" textLength="76" lengthAdjust="spacingAndGlyphs">README.txt</text>
<rect class="g" x="1769" y="1626.3" width="104" height="14.7"/><text class="r" x="1770" y="1638" textLength="102" lengthAdjust="spacingAndGlyphs">(Файл справки)</text></g>
<g id="setup"><use href="#file" transform="translate(1645,1666) scale(1.59,1.59)"/><text class="r" x="1680" y="1687" textLength="55.8" lengthAdjust="spacingAndGlyphs">setup.py</text>
<rect class="g" x="1752" y="1676" width="225" height="15"/><text class="r" x="1752.5" y="1688" textLength="224" lengthAdjust="spacingAndGlyphs">(файл для создания пакета *whl)</text></g>
<g id="requirements"><use href="#file" transform="translate(1646.4,1713.8) scale(1.65,1.67)"/><text class="r" x="1682" y="1735.7" textLength="108" lengthAdjust="spacingAndGlyphs">requirements.txt</text>
<rect class="g" x="1792.5" y="1724" width="97.9" height="14.4"/><text class="r" x="1793" y="1735.7" textLength="97" lengthAdjust="spacingAndGlyphs">(Зависимости)</text></g>
<g id="version"><use href="#file" transform="translate(1646.4,1763) scale(1.73,1.7)"/><text class="r" x="1684" y="1786" textLength="69" lengthAdjust="spacingAndGlyphs">version.txt</text>
<rect class="g" x="1759.5" y="1774" width="197" height="14.4"/><text class="r" x="1760" y="1785.7" textLength="196" lengthAdjust="spacingAndGlyphs">(Правила нумерации версий)</text></g>
<g id="root-dots"><text class="dots" x="1575.6" y="1836">...</text></g>
</svg>
